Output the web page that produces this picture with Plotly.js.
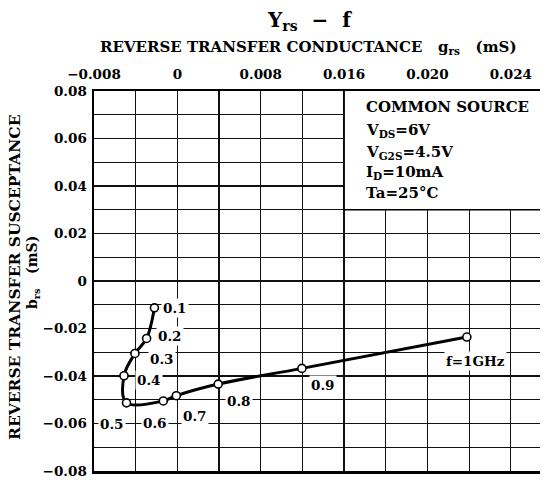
<!DOCTYPE html>
<html>
<head>
<meta charset="utf-8">
<script src="https://cdn.plot.ly/plotly-3.0.1.min.js"></script>
<style>html,body{margin:0;padding:0;background:#fff;}#chart{width:550px;height:480px;}</style>
</head>
<body>
<div id="chart"></div>
<script>
// Frequency points (GHz) along the Yrs curve
const freqLabels = ['0.1', '0.2', '0.3', '0.4', '0.5', '0.6', '0.7', '0.8', '0.9', 'f=1GHz'];
// Reverse transfer conductance g_rs (axis units)
const grs = [-0.0022, -0.00295, -0.00407, -0.00512, -0.00488, -0.00135, -0.0001, 0.00392, 0.01195, 0.02778];
// Reverse transfer susceptance b_rs (mS)
const brs = [-0.0113, -0.0242, -0.0305, -0.0399, -0.0513, -0.0505, -0.0483, -0.0434, -0.0368, -0.0236];
// label offsets (px) from each point
const labelDx = [21, 23, 27, 25, -15, -8, 19, 21, 21, 9];
const labelDy = [0, 2, -6, -4, -21, -22, -20, -17, -17, -24];

const xTickVals = [-0.008, 0, 0.008, 0.016, 0.024, 0.032];
const xTickText = ['\u22120.008', '0', '0.008', '0.016', '0.020', '0.024'];
const xMinorVals = [-0.004, 0.004, 0.012, 0.020, 0.028];
const yTickVals = [-0.08, -0.06, -0.04, -0.02, 0, 0.02, 0.04, 0.06, 0.08];
const yTickText = ['\u22120.08', '\u22120.06', '\u22120.04', '\u22120.02', '0', '0.02', '0.04', '0.06', '0.08'];
const yMinorVals = [-0.07, -0.05, -0.03, -0.01, 0.01, 0.03, 0.05, 0.07];

const conditions = ['COMMON SOURCE', 'V<sub>DS</sub>=6V', 'V<sub>G2S</sub>=4.5V', 'I<sub>D</sub>=10mA', 'Ta=25\u00B0C'];

const FONT = 'DejaVu Serif, Liberation Serif, serif';
const X0 = 94, X1 = 540, Y0 = 91, Y1 = 471;
function px(x) { return (x - X0) / (X1 - X0); }
function py(y) { return (Y1 - y) / (Y1 - Y0); }

const annotations = [];
freqLabels.forEach((t, i) => {
  annotations.push({
    x: grs[i], y: brs[i], xref: 'x', yref: 'y', text: t, showarrow: false,
    xanchor: 'center', yanchor: 'middle',
    xshift: labelDx[i], yshift: labelDy[i], bgcolor: '#fff', borderpad: 1,
    font: {family: FONT, size: 13.5, color: '#000', weight: 'bold'}
  });
});
const condY = [107, 130, 152, 172, 193];
conditions.forEach((t, i) => {
  annotations.push({
    x: px(364), y: py(condY[i]), xref: 'paper', yref: 'paper', xanchor: 'left', yanchor: 'middle',
    text: t, showarrow: false, font: {family: FONT, size: 15, color: '#000', weight: 'bold'}
  });
});
function fixed(xp, yp, text, size, angle) {
  annotations.push({x: px(xp), y: py(yp), xref: 'paper', yref: 'paper', xanchor: 'center', yanchor: 'middle',
    showarrow: false, textangle: angle || 0, text: text,
    font: {family: FONT, size: size, color: '#000', weight: 'bold'}});
}
fixed(309, 21, 'Y<sub>rs</sub>  \u2212  f', 20);
fixed(308, 47, 'REVERSE TRANSFER CONDUCTANCE   g<sub>rs</sub>   (mS)', 15);
fixed(14, 277, 'REVERSE TRANSFER SUSCEPTANCE', 15.5, -90);
fixed(33, 273, 'b<sub>rs</sub>   (mS)', 14, -90);

const trace = {
  x: grs, y: brs, type: 'scatter', mode: 'lines+markers',
  line: {color: '#000', width: 3, shape: 'spline', smoothing: 1},
  marker: {symbol: 'circle', size: 8, color: '#fff', line: {color: '#000', width: 1.6}},
  hoverinfo: 'skip'
};

const layout = {
  width: 550, height: 480,
  margin: {l: X0, r: 550 - X1, t: Y0, b: 480 - Y1, pad: 0},
  paper_bgcolor: '#fff', plot_bgcolor: '#fff',
  showlegend: false,
  xaxis: {
    side: 'top', range: [-0.008, 0.0348], tickvals: xTickVals, ticktext: xTickText,
    showgrid: true, gridcolor: '#111', gridwidth: 1.2, zeroline: false,
    minor: {tickvals: xMinorVals, showgrid: true, gridcolor: '#111', gridwidth: 1.2, ticks: ''},
    showline: true, linecolor: '#000', linewidth: 2.5, mirror: true, ticks: '',
    ticklabelstandoff: 4,
    tickfont: {family: FONT, size: 13.5, color: '#000', weight: 'bold'}
  },
  yaxis: {
    range: [-0.08, 0.08], tickvals: yTickVals, ticktext: yTickText,
    showgrid: true, gridcolor: '#111', gridwidth: 1.2, zeroline: false,
    minor: {tickvals: yMinorVals, showgrid: true, gridcolor: '#111', gridwidth: 1.2, ticks: ''},
    showline: true, linecolor: '#000', linewidth: 2.5, mirror: false, ticks: '',
    ticklabelstandoff: 2,
    tickfont: {family: FONT, size: 13.5, color: '#000', weight: 'bold'}
  },
  shapes: [{
    type: 'rect', xref: 'x', yref: 'y', x0: 0.016, x1: 0.05, y0: 0.03, y1: 0.09,
    fillcolor: '#fff', line: {color: '#000', width: 1.6}, layer: 'between'
  }],
  annotations: annotations
};

Plotly.newPlot('chart', [trace], layout, {staticPlot: true, displayModeBar: false});
</script>
</body>
</html>
